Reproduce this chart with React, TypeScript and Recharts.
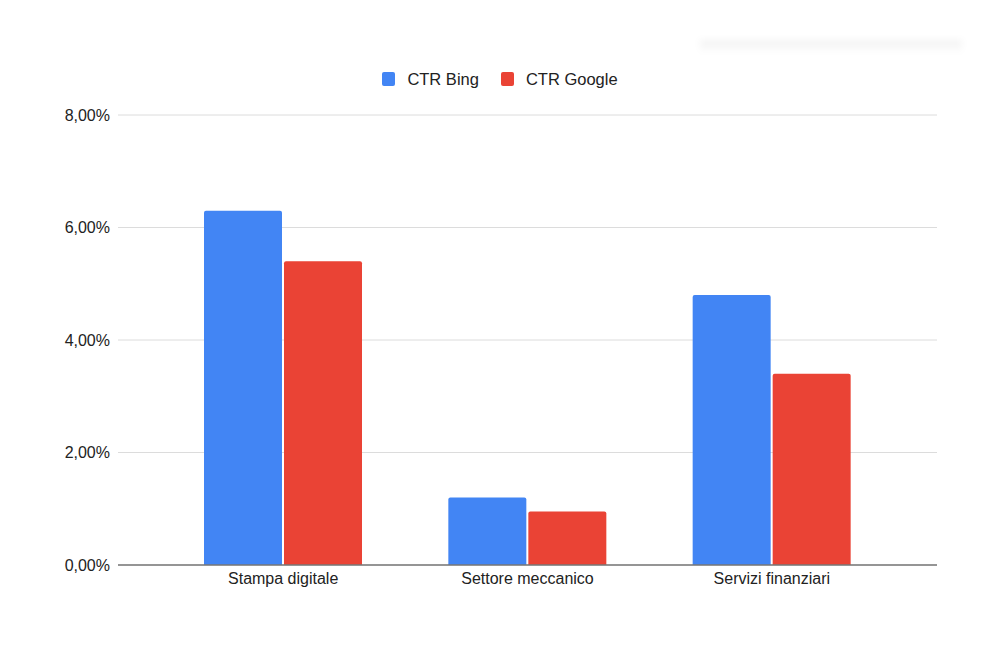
import * as React from "react"
import { BarChart, Bar, XAxis, YAxis, CartesianGrid, Legend } from "recharts"

const categories = ["Stampa digitale", "Settore meccanico", "Servizi finanziari"]
const ctrBing = [0.063, 0.012, 0.048]
const ctrGoogle = [0.054, 0.0095, 0.034]
const yTicks = [0, 0.02, 0.04, 0.06, 0.08]

const data = categories.map((name, i) => ({
  name,
  bing: ctrBing[i],
  google: ctrGoogle[i],
}))

const FONT = '"Liberation Sans", Arial, sans-serif'

const formatPct = (v: number) => (v * 100).toFixed(2).replace(".", ",") + "%"

function LegendContent(props: any) {
  const { payload } = props
  return (
    <div style={{ display: "flex", justifyContent: "center", alignItems: "center", fontFamily: FONT, fontSize: 16.5, color: "#222", lineHeight: "16px" }}>
      {payload.map((p: any, i: number) => (
        <div key={i} style={{ display: "flex", alignItems: "center", marginRight: i === 0 ? 22 : 0 }}>
          <span style={{ width: 13, height: 14, background: p.color, borderRadius: 2, marginRight: 12, display: "inline-block" }} />
          <span>{p.value}</span>
        </div>
      ))}
    </div>
  )
}

export default function App() {
  return (
    <div style={{ position: "absolute", left: 0, top: 0, width: 1000, height: 663, background: "#fff", overflow: "hidden" }}>
      <div
        style={{
          position: "absolute",
          left: 700,
          top: 40,
          width: 262,
          height: 14,
          background: "linear-gradient(to bottom, rgba(0,0,0,0.05), rgba(0,0,0,0.0))",
          filter: "blur(3px)",
        }}
      />
      <BarChart
        width={1000}
        height={663}
        data={data}
        margin={{ top: 99, right: 63, bottom: 68, left: 0 }}
        barCategoryGap={43}
        barGap={2}
      >
        <CartesianGrid vertical={false} stroke="#dcdcdc" strokeWidth={1} />
        <XAxis
          dataKey="name"
          height={30}
          padding={{ left: 43, right: 43 }}
          axisLine={{ stroke: "#777", strokeWidth: 1.5 }}
          tickLine={false}
          tickSize={0}
          tickMargin={8}
          tick={{ fill: "#222", fontSize: 16, fontFamily: FONT }}
        />
        <YAxis
          width={118}
          domain={[0, 0.08]}
          ticks={yTicks}
          tickFormatter={formatPct}
          axisLine={false}
          tickLine={false}
          tickSize={0}
          tickMargin={8}
          tick={{ fill: "#222", fontSize: 16, fontFamily: FONT }}
        />
        <Legend
          verticalAlign="top"
          align="center"
          content={<LegendContent />}
          wrapperStyle={{ top: 71, left: 0, width: 1000 }}
        />
        <Bar dataKey="bing" name="CTR Bing" fill="#4285F4" radius={[2, 2, 0, 0]} isAnimationActive={false} />
        <Bar dataKey="google" name="CTR Google" fill="#EA4335" radius={[2, 2, 0, 0]} isAnimationActive={false} />
      </BarChart>
    </div>
  )
}
